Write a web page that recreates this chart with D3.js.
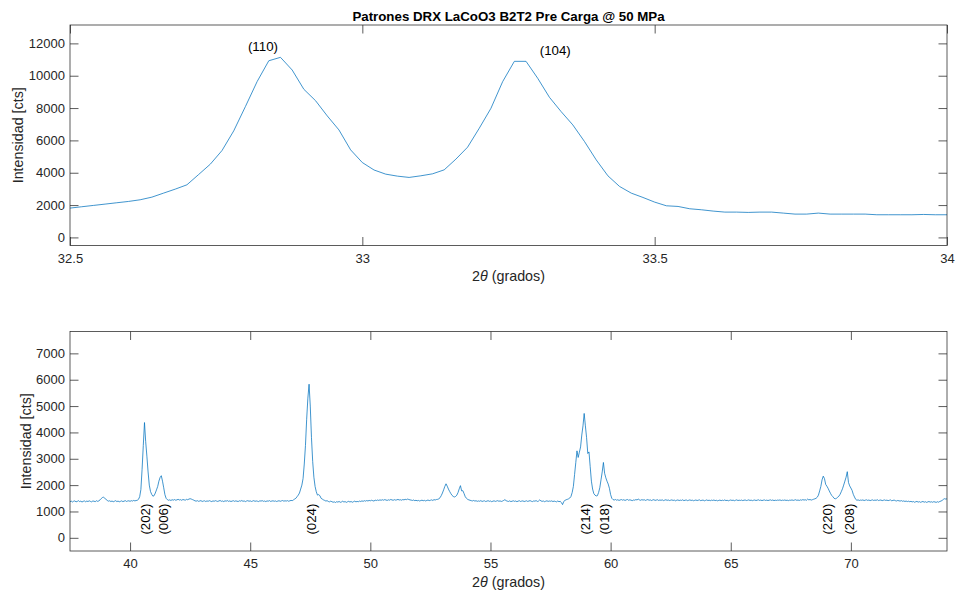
<!DOCTYPE html>
<html>
<head>
<meta charset="utf-8">
<script src="https://cdn.jsdelivr.net/npm/d3@7"></script>
<style>
  html, body { margin: 0; padding: 0; background: #fff; }
  svg { display: block; font-family: "Liberation Sans", Arial, Helvetica, sans-serif; }
</style>
</head>
<body>
<svg id="chart" width="955" height="592"></svg>
<script>
// ---- Detail scan (110)/(104), 2θ from 32.5° in 0.02° steps ----
const zoomStart = 32.5;
const zoomStep = 0.02;
const zoomCounts = [
  1813, 1896, 1978, 2060, 2143, 2225, 2328, 2490, 2740, 2986,
  3254, 3890, 4530, 5374, 6588, 8091, 9634, 10926, 11137, 10352,
  9160, 8457, 7514, 6648, 5414, 4630, 4170, 3913, 3790, 3710,
  3810, 3932, 4179, 4840, 5580, 6753, 7987, 9634, 10890, 10890,
  9840, 8666, 7781, 6958, 5929, 4797, 3809, 3150, 2739, 2471,
  2183, 1956, 1915, 1771, 1710, 1628, 1566, 1566, 1546, 1566,
  1566, 1504, 1442, 1442, 1504, 1442, 1442, 1442, 1442, 1401,
  1401, 1401, 1401, 1420, 1401, 1401
];
const zoomTicksX = [32.5, 33, 33.5, 34];
const zoomTicksY = [0, 2000, 4000, 6000, 8000, 10000, 12000];
const zoomPeakLabels = ["(110)", "(104)"];
const zoomPeakAngles = [32.83, 33.33];
const zoomPeakLevels = [11800, 11570];

// ---- Full scan, 2θ from 37.5° to 74° in 0.05° steps ----
const fullStart = 37.5;
const fullStep = 0.05;
const fullCounts = [
  1372, 1395, 1360, 1388, 1402, 1365, 1380, 1410, 1374, 1392, 1358, 1385, 1400, 1368, 1395, 1377, 1405, 1382, 1366, 1398,
  1390, 1372, 1408, 1385, 1402, 1440, 1490, 1530, 1540, 1498, 1460, 1418, 1392, 1405, 1378, 1396, 1370, 1388, 1410, 1376,
  1395, 1368, 1384, 1402, 1375, 1390, 1412, 1380, 1398, 1405, 1385, 1410, 1395, 1420, 1402, 1415, 1425, 1460, 1560, 1830,
  2600, 3500, 4375, 3650, 3100, 2500, 2000, 1760, 1650, 1580, 1600, 1700, 1820, 1950, 2150, 2290, 2357, 2150, 1900, 1640,
  1500, 1450, 1425, 1440, 1418, 1445, 1430, 1452, 1428, 1440, 1462, 1435, 1448, 1425, 1455, 1440, 1430, 1460, 1445, 1470,
  1485, 1470, 1450, 1430, 1405, 1392, 1410, 1385, 1398, 1412, 1380, 1395, 1405, 1378, 1400, 1388, 1410, 1392, 1375, 1402,
  1388, 1410, 1395, 1380, 1402, 1415, 1386, 1398, 1375, 1405, 1392, 1412, 1383, 1400, 1378, 1395, 1408, 1385, 1402, 1390,
  1378, 1405, 1392, 1415, 1386, 1400, 1374, 1398, 1410, 1388, 1402, 1380, 1395, 1412, 1384, 1400, 1390, 1376, 1404, 1395,
  1410, 1385, 1398, 1375, 1402, 1390, 1412, 1382, 1396, 1405, 1388, 1400, 1378, 1395, 1408, 1386, 1402, 1415, 1392, 1405,
  1395, 1412, 1388, 1405, 1420, 1410, 1440, 1470, 1500, 1560, 1620, 1700, 1850, 2000, 2250, 2800, 3500, 4500, 5300, 5830,
  5000, 3800, 2900, 2300, 1950, 1750, 1620, 1640, 1600, 1500, 1470, 1440, 1420, 1395, 1410, 1380, 1365, 1390, 1372, 1350,
  1365, 1340, 1372, 1355, 1380, 1348, 1362, 1390, 1358, 1375, 1345, 1368, 1385, 1360, 1378, 1350, 1372, 1392, 1365, 1380,
  1370, 1395, 1378, 1402, 1385, 1410, 1392, 1415, 1398, 1420, 1405, 1425, 1410, 1395, 1430, 1415, 1435, 1420, 1440, 1425,
  1445, 1428, 1450, 1435, 1420, 1442, 1430, 1455, 1438, 1425, 1448, 1432, 1440, 1458, 1435, 1445, 1428, 1452, 1440, 1460,
  1448, 1470, 1455, 1440, 1432, 1418, 1435, 1410, 1425, 1405, 1420, 1398, 1415, 1430, 1408, 1422, 1400, 1418, 1435, 1412,
  1425, 1440, 1418, 1450, 1435, 1455, 1460, 1480, 1520, 1600, 1700, 1820, 1950, 2050, 1960, 1850, 1760, 1680, 1610, 1570,
  1550, 1570, 1620, 1720, 1860, 1980, 1780, 1790, 1680, 1560, 1500, 1460, 1440, 1425, 1410, 1400, 1418, 1395, 1408, 1385,
  1400, 1388, 1412, 1380, 1395, 1405, 1378, 1392, 1410, 1385, 1398, 1372, 1390, 1405, 1382, 1396, 1410, 1388, 1400, 1380,
  1395, 1420, 1448, 1410, 1392, 1380, 1402, 1375, 1390, 1405, 1385, 1398, 1372, 1392, 1408, 1380, 1395, 1402, 1378, 1390,
  1405, 1382, 1398, 1410, 1388, 1375, 1400, 1392, 1412, 1380, 1395, 1440, 1400, 1385, 1398, 1372, 1390, 1405, 1383, 1396,
  1388, 1402, 1375, 1395, 1380, 1365, 1398, 1372, 1385, 1340, 1260, 1380, 1420, 1445, 1460, 1480, 1510, 1570, 1720, 1950,
  2400, 2850, 3300, 3050, 3250, 3450, 3900, 4250, 4720, 4250, 3800, 3200, 3260, 2700, 2150, 1850, 1680, 1620, 1590, 1600,
  1720, 1900, 2200, 2500, 2860, 2450, 2280, 2150, 2040, 1880, 1640, 1500, 1450, 1435, 1455, 1428, 1445, 1420, 1438, 1452,
  1430, 1445, 1418, 1440, 1455, 1425, 1442, 1430, 1410, 1435, 1428, 1450, 1438, 1470, 1440, 1425, 1448, 1432, 1445, 1420,
  1438, 1452, 1425, 1440, 1415, 1436, 1448, 1420, 1432, 1445, 1418, 1435, 1425, 1440, 1412, 1430, 1445, 1422, 1436, 1415,
  1428, 1440, 1418, 1432, 1405, 1425, 1438, 1415, 1430, 1420, 1442, 1410, 1428, 1435, 1412, 1425, 1440, 1418, 1430, 1408,
  1422, 1435, 1415, 1428, 1440, 1410, 1425, 1432, 1405, 1420, 1438, 1415, 1428, 1410, 1430, 1418, 1436, 1412, 1425, 1405,
  1420, 1432, 1410, 1428, 1415, 1438, 1412, 1425, 1405, 1422, 1435, 1418, 1430, 1408, 1425, 1440, 1415, 1428, 1418, 1432,
  1412, 1428, 1436, 1415, 1425, 1440, 1418, 1430, 1410, 1426, 1435, 1415, 1428, 1442, 1420, 1432, 1412, 1428, 1438, 1418,
  1430, 1415, 1428, 1440, 1420, 1435, 1412, 1428, 1418, 1432, 1425, 1440, 1415, 1430, 1422, 1436, 1418, 1428, 1412, 1430,
  1425, 1438, 1420, 1432, 1445, 1422, 1435, 1418, 1440, 1428, 1450, 1432, 1445, 1425, 1470, 1440, 1455, 1432, 1448, 1465,
  1480, 1500, 1540, 1620, 1780, 1950, 2200, 2340, 2250, 2030, 1960, 1880, 1780, 1690, 1610, 1560, 1500, 1480, 1500, 1540,
  1580, 1650, 1750, 1860, 2000, 2150, 2300, 2510, 2100, 1970, 1890, 1800, 1650, 1550, 1460, 1425, 1440, 1418, 1432, 1425,
  1438, 1415, 1430, 1442, 1420, 1435, 1412, 1428, 1440, 1418, 1432, 1422, 1445, 1415, 1428, 1436, 1410, 1425, 1438, 1420,
  1430, 1412, 1425, 1438, 1405, 1420, 1432, 1410, 1398, 1418, 1405, 1395, 1412, 1388, 1400, 1380, 1395, 1375, 1390, 1370,
  1385, 1362, 1378, 1350, 1368, 1382, 1355, 1372, 1348, 1365, 1380, 1352, 1370, 1345, 1362, 1378, 1355, 1368, 1350, 1372,
  1360, 1345, 1370, 1352, 1380, 1395, 1420, 1460, 1485, 1470, 1480
];
const fullTicksX = [40, 45, 50, 55, 60, 65, 70];
const fullTicksY = [0, 1000, 2000, 3000, 4000, 5000, 6000, 7000];
const fullPeakLabels = ["(202)", "(006)", "(024)", "(214)", "(018)", "(220)", "(208)"];
const fullPeakAngles = [40.65, 41.38, 47.55, 58.96, 59.75, 69.03, 69.96];
const fullLabelLevel = 1300;

const titleText = "Patrones DRX LaCoO3 B2T2 Pre Carga @ 50 MPa";

const AXIS = "#262626";
const LINE = "#0072BD";
const TICK_FONT = 13;
const LABEL_FONT = 14.3;
const NOTE_FONT = 13.3;
const TITLE_FONT = 13.3;
const svg = d3.select("#chart");

function drawPanel(opt) {
  const { left, right, top, bottom, xDomain, counts, start, step, ticksX, ticksY, yLabelX, xLabelGap } = opt;
  const pts = counts.map((v, i) => [start + i * step, v]);
  const yMax = d3.max(counts) + 2000;
  const x = d3.scaleLinear().domain(xDomain).range([left, right]);
  const y = d3.scaleLinear().domain([-500, yMax]).range([bottom, top]);
  const g = svg.append("g");
  const tickLen = 8.5;

  // data line
  const clipId = "clip" + Math.round(top);
  svg.append("clipPath").attr("id", clipId).append("rect")
    .attr("x", left).attr("y", top).attr("width", right - left).attr("height", bottom - top);
  g.append("path")
    .datum(pts)
    .attr("clip-path", `url(#${clipId})`)
    .attr("fill", "none")
    .attr("stroke", LINE)
    .attr("stroke-width", 0.75)
    .attr("stroke-linejoin", "round")
    .attr("d", d3.line().x(d => x(d[0])).y(d => y(d[1])));

  // axes: inner ticks on all four sides (box on)
  const axB = d3.axisBottom(x).tickValues(ticksX).tickSizeInner(-tickLen).tickSizeOuter(0).tickPadding(8)
    .tickFormat(d3.format("~g"));
  const axT = d3.axisTop(x).tickValues(ticksX).tickSizeInner(-tickLen).tickSizeOuter(0).tickFormat("");
  const axL = d3.axisLeft(y).tickValues(ticksY).tickSizeInner(-tickLen).tickSizeOuter(0).tickPadding(5)
    .tickFormat(d3.format("d"));
  const axR = d3.axisRight(y).tickValues(ticksY).tickSizeInner(-tickLen).tickSizeOuter(0).tickFormat("");

  const place = [
    [axB, `translate(0,${bottom})`],
    [axT, `translate(0,${top})`],
    [axL, `translate(${left},0)`],
    [axR, `translate(${right},0)`]
  ];
  place.forEach(([ax, tr]) => {
    const a = g.append("g").attr("transform", tr).call(ax);
    a.select(".domain").remove();
    a.selectAll("line").attr("stroke", AXIS).attr("stroke-width", 0.75);
    a.selectAll("text").attr("fill", AXIS).attr("font-size", TICK_FONT)
      .attr("font-family", '"Liberation Sans", Arial, Helvetica, sans-serif');
  });

  g.append("rect")
    .attr("x", left).attr("y", top).attr("width", right - left).attr("height", bottom - top)
    .attr("fill", "none").attr("stroke", AXIS).attr("stroke-width", 0.75);

  // x label with italic theta
  const xl = g.append("text")
    .attr("x", (left + right) / 2).attr("y", bottom + xLabelGap)
    .attr("text-anchor", "middle").attr("font-size", LABEL_FONT).attr("fill", AXIS);
  xl.append("tspan").text("2");
  xl.append("tspan").attr("font-style", "italic").text("θ");
  xl.append("tspan").text(" (grados)");

  g.append("text")
    .attr("transform", `translate(${yLabelX},${(top + bottom) / 2}) rotate(-90)`)
    .attr("text-anchor", "middle").attr("dominant-baseline", "central")
    .attr("font-size", LABEL_FONT).attr("fill", AXIS)
    .text("Intensidad [cts]");

  return { x, y, g };
}

// upper panel: detail of the (110)/(104) doublet
const upper = drawPanel({
  left: 70, right: 947, top: 25, bottom: 245.5,
  xDomain: [32.5, 34], counts: zoomCounts, start: zoomStart, step: zoomStep,
  ticksX: zoomTicksX, ticksY: zoomTicksY, yLabelX: 18, xLabelGap: 35
});
zoomPeakLabels.forEach((t, i) => {
  upper.g.append("text")
    .attr("x", upper.x(zoomPeakAngles[i])).attr("y", upper.y(zoomPeakLevels[i]))
    .attr("text-anchor", "middle").attr("dominant-baseline", "central")
    .attr("font-size", NOTE_FONT).attr("fill", "#000").text(t);
});

// lower panel: full pattern with indexed reflections
const lower = drawPanel({
  left: 70, right: 947, top: 331.5, bottom: 551,
  xDomain: [37.5, 74], counts: fullCounts, start: fullStart, step: fullStep,
  ticksX: fullTicksX, ticksY: fullTicksY, yLabelX: 26, xLabelGap: 35.5
});
fullPeakLabels.forEach((t, i) => {
  const px = lower.x(fullPeakAngles[i]);
  const py = lower.y(fullLabelLevel);
  lower.g.append("text")
    .attr("transform", `translate(${px},${py}) rotate(-90)`)
    .attr("text-anchor", "end").attr("dominant-baseline", "central")
    .attr("font-size", NOTE_FONT).attr("fill", "#000").text(t);
});

svg.append("text")
  .attr("x", (70 + 947) / 2).attr("y", 20.5)
  .attr("text-anchor", "middle").attr("font-size", TITLE_FONT).attr("font-weight", "bold")
  .attr("fill", "#000").text(titleText);
</script>
</body>
</html>
